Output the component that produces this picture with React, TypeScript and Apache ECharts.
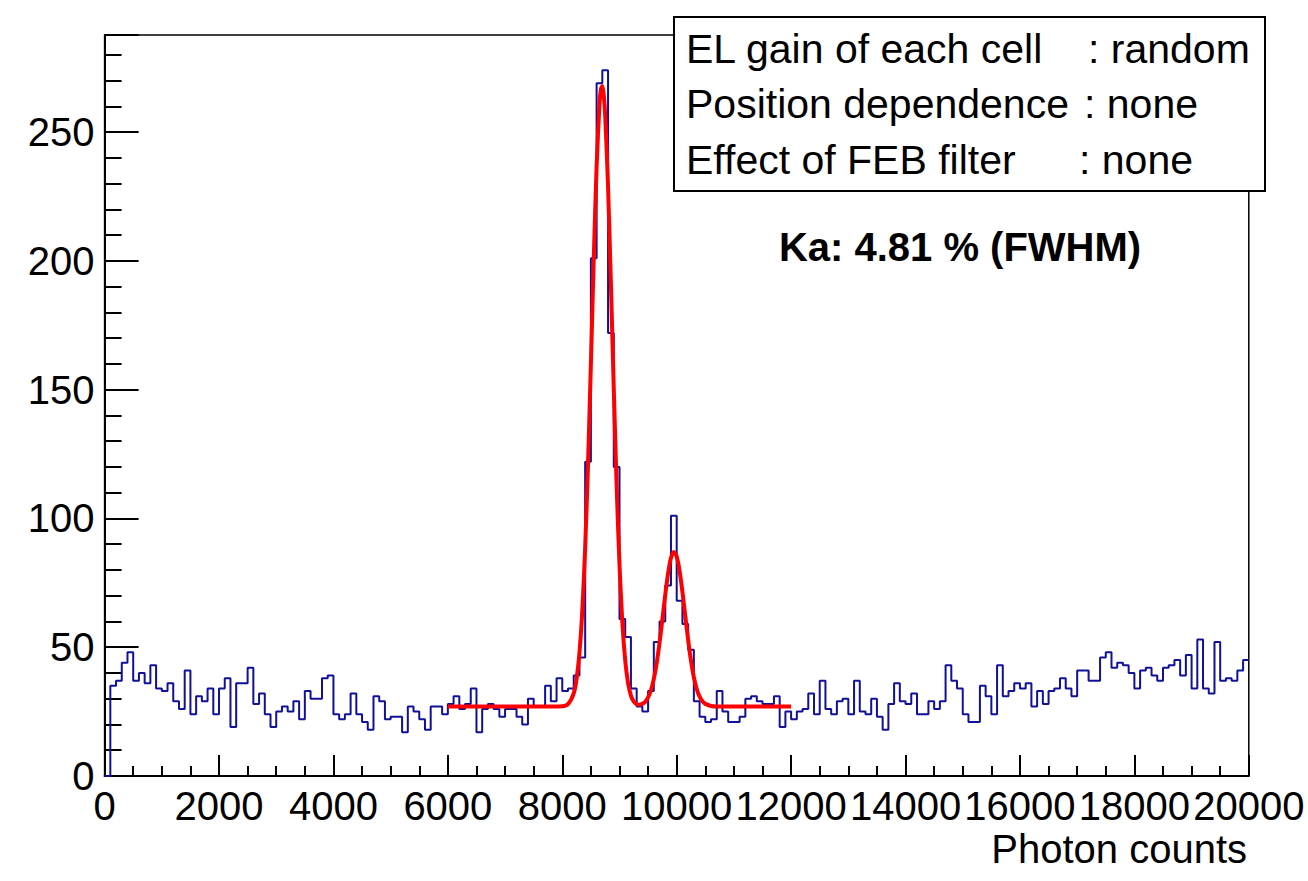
import React, { useEffect, useRef } from 'react';
import * as echarts from 'echarts';

// ---- data ----
const BIN_WIDTH = 100;
const X_MIN = 0;
const X_MAX = 20000;
const Y_MAX = 287.7;
const X_TICK_STEP = 2000;
const Y_MAJOR_STEP = 50;
const Y_MINOR_STEP = 10;

// histogram bin contents, 200 bins of width 100 from 0 to 20000
const counts = [
  0, 35, 37, 44, 48, 37, 40, 36, 43, 34,
  33, 36, 29, 26, 41, 24, 31, 29, 34, 24,
  34, 38, 19, 36, 36, 42, 28, 32, 24, 19,
  25, 27, 25, 29, 22, 33, 30, 30, 38, 39,
  24, 22, 24, 32, 24, 21, 18, 31, 29, 22,
  23, 23, 17, 27, 25, 22, 18, 27, 27, 24,
  28, 31, 26, 28, 34, 17, 26, 28, 26, 23,
  26, 26, 23, 20, 30, 27, 27, 35, 29, 38,
  33, 34, 39, 46, 122, 201, 269, 274, 172, 120,
  61, 54, 34, 27, 25, 33, 52, 60, 74, 101,
  68, 59, 49, 29, 23, 21, 22, 33, 25, 21,
  21, 23, 30, 31, 29, 28, 28, 31, 19, 25,
  22, 25, 26, 32, 24, 37, 26, 24, 29, 30,
  24, 37, 25, 24, 30, 23, 18, 28, 36, 29,
  28, 32, 24, 24, 29, 26, 29, 43, 37, 34,
  24, 21, 21, 35, 31, 24, 43, 31, 33, 36,
  34, 36, 27, 33, 28, 33, 34, 38, 34, 31,
  41, 41, 37, 37, 46, 48, 42, 44, 43, 40,
  34, 41, 42, 39, 37, 42, 43, 45, 39, 47,
  34, 53, 34, 32, 52, 37, 38, 37, 41, 45,
];

// fitted curve (red)
const fitX = [
  6000, 6500, 7000, 7500, 7800, 8000, 8100, 8200, 8250, 8300,
  8350, 8400, 8450, 8500, 8550, 8600, 8650, 8675, 8700, 8725,
  8750, 8800, 8850, 8900, 8950, 9000, 9050, 9100, 9150, 9200,
  9250, 9300, 9350, 9400, 9450, 9500, 9550, 9600, 9650, 9700,
  9750, 9800, 9850, 9900, 9950, 10000, 10050, 10100, 10150, 10200,
  10250, 10300, 10350, 10400, 10450, 10500, 10600, 10700, 11000, 11500,
  12000,
];
const fitY = [
  27.0, 27.0, 27.0, 27.0, 27.0, 27.1, 27.9, 32.1, 37.7, 47.8,
  64.2, 88.6, 121.1, 160.0, 200.8, 236.7, 260.8, 266.6, 267.9, 264.4,
  256.4, 228.8, 191.1, 150.4, 112.7, 82.0, 59.6, 44.9, 36.0, 31.2,
  28.9, 27.9, 27.7, 28.0, 28.8, 30.5, 33.3, 37.7, 43.8, 51.7,
  60.9, 70.4, 78.8, 84.7, 87.0, 85.2, 79.7, 71.5, 62.1, 52.8,
  44.7, 38.3, 33.8, 30.8, 29.0, 28.0, 27.2, 27.0, 27.0, 27.0,
  27.0,
];

const legendLabels = ['EL gain of each cell', 'Position dependence', 'Effect of FEB filter'];
const legendValues = [': random', ': none', ': none'];
const resolutionText = 'Ka: 4.81 % (FWHM)';
const xTitle = 'Photon counts';

const FONT = '"Liberation Sans", Arial, Helvetica, sans-serif';

export default function App() {
  const ref = useRef<HTMLDivElement>(null);

  useEffect(() => {
    if (!ref.current) return;
    const chart = echarts.init(ref.current, undefined, { renderer: 'svg' });

    const histData: number[][] = counts.map((c, i) => [X_MIN + i * BIN_WIDTH, c]);
    histData.push([X_MAX, counts[counts.length - 1]]);
    const fitData = fitX.map((x, i) => [x, fitY[i]]);

    const legendColonX = [1088, 1084, 1079];
    const legendY = [49, 104, 160];

    const option: any = {
      animation: false,
      backgroundColor: '#ffffff',
      grid: {
        left: 104.6,
        right: 59.2,
        top: 35,
        bottom: 105,
        show: true,
        borderColor: '#000',
        borderWidth: 1.5,
        backgroundColor: 'transparent',
      },
      xAxis: {
        type: 'value',
        min: X_MIN,
        max: X_MAX,
        interval: X_TICK_STEP,
        axisLine: { show: true, onZero: false, lineStyle: { color: '#000', width: 2 } },
        axisTick: { show: true, inside: true, length: 21, lineStyle: { color: '#000', width: 2 } },
        minorTick: { show: true, splitNumber: 4, length: 10, lineStyle: { color: '#000', width: 2 } },
        axisLabel: {
          show: true,
          color: '#000',
          fontSize: 40,
          fontFamily: FONT,
          margin: 10,
          showMinLabel: true,
          showMaxLabel: true,
          hideOverlap: false,
          formatter: (v: number) => String(v),
        },
        splitLine: { show: false },
        minorSplitLine: { show: false },
      },
      yAxis: [
        {
          type: 'value',
          position: 'left',
          min: 0,
          max: Y_MAX,
          interval: Y_MINOR_STEP,
          axisLine: { show: true, onZero: false, lineStyle: { color: '#000', width: 2 } },
          axisTick: { show: true, inside: true, length: 17, lineStyle: { color: '#000', width: 2 } },
          axisLabel: {
            show: true,
            color: '#000',
            fontSize: 40,
            fontFamily: FONT,
            margin: 10,
            formatter: (v: number) => (Math.abs(v % Y_MAJOR_STEP) < 1e-6 ? String(v) : ''),
          },
          splitLine: { show: false },
        },
        {
          type: 'value',
          position: 'left',
          min: 0,
          max: Y_MAX,
          interval: Y_MAJOR_STEP,
          axisLine: { show: false },
          axisTick: { show: true, inside: true, length: 34, lineStyle: { color: '#000', width: 2 } },
          axisLabel: { show: false },
          splitLine: { show: false },
        },
      ],
      series: [
        {
          type: 'line',
          name: 'hist',
          yAxisIndex: 0,
          data: histData,
          step: 'end',
          showSymbol: false,
          symbol: 'none',
          lineStyle: { color: '#101099', width: 2 },
          z: 2,
        },
        {
          type: 'line',
          name: 'fit',
          yAxisIndex: 0,
          data: fitData,
          smooth: 0.25,
          showSymbol: false,
          symbol: 'none',
          lineStyle: { color: '#ff0000', width: 4 },
          z: 3,
        },
      ],
      graphic: [
        {
          type: 'rect',
          z: 100,
          shape: { x: 674, y: 17, width: 591, height: 174 },
          style: { fill: '#fff', stroke: '#000', lineWidth: 2 },
        },
        ...legendLabels.map((t, i) => ({
          type: 'text',
          z: 101,
          x: 686,
          y: legendY[i],
          style: { text: t, fill: '#000', font: `41px ${FONT}`, align: 'left', verticalAlign: 'middle' },
        })),
        ...legendValues.map((t, i) => ({
          type: 'text',
          z: 101,
          x: legendColonX[i],
          y: legendY[i],
          style: { text: t, fill: '#000', font: `41px ${FONT}`, align: 'left', verticalAlign: 'middle' },
        })),
        {
          type: 'text',
          z: 101,
          x: 960,
          y: 247,
          style: { text: resolutionText, fill: '#000', font: `bold 40px ${FONT}`, align: 'center', verticalAlign: 'middle' },
        },
        {
          type: 'text',
          z: 101,
          x: 1247,
          y: 849,
          style: { text: xTitle, fill: '#000', font: `40px ${FONT}`, align: 'right', verticalAlign: 'middle' },
        },
      ],
    };

    chart.setOption(option);
    return () => chart.dispose();
  }, []);

  return (
    <div
      ref={ref}
      style={{ position: 'fixed', left: 0, top: 0, width: 1308, height: 881, background: '#fff' }}
    />
  );
}
